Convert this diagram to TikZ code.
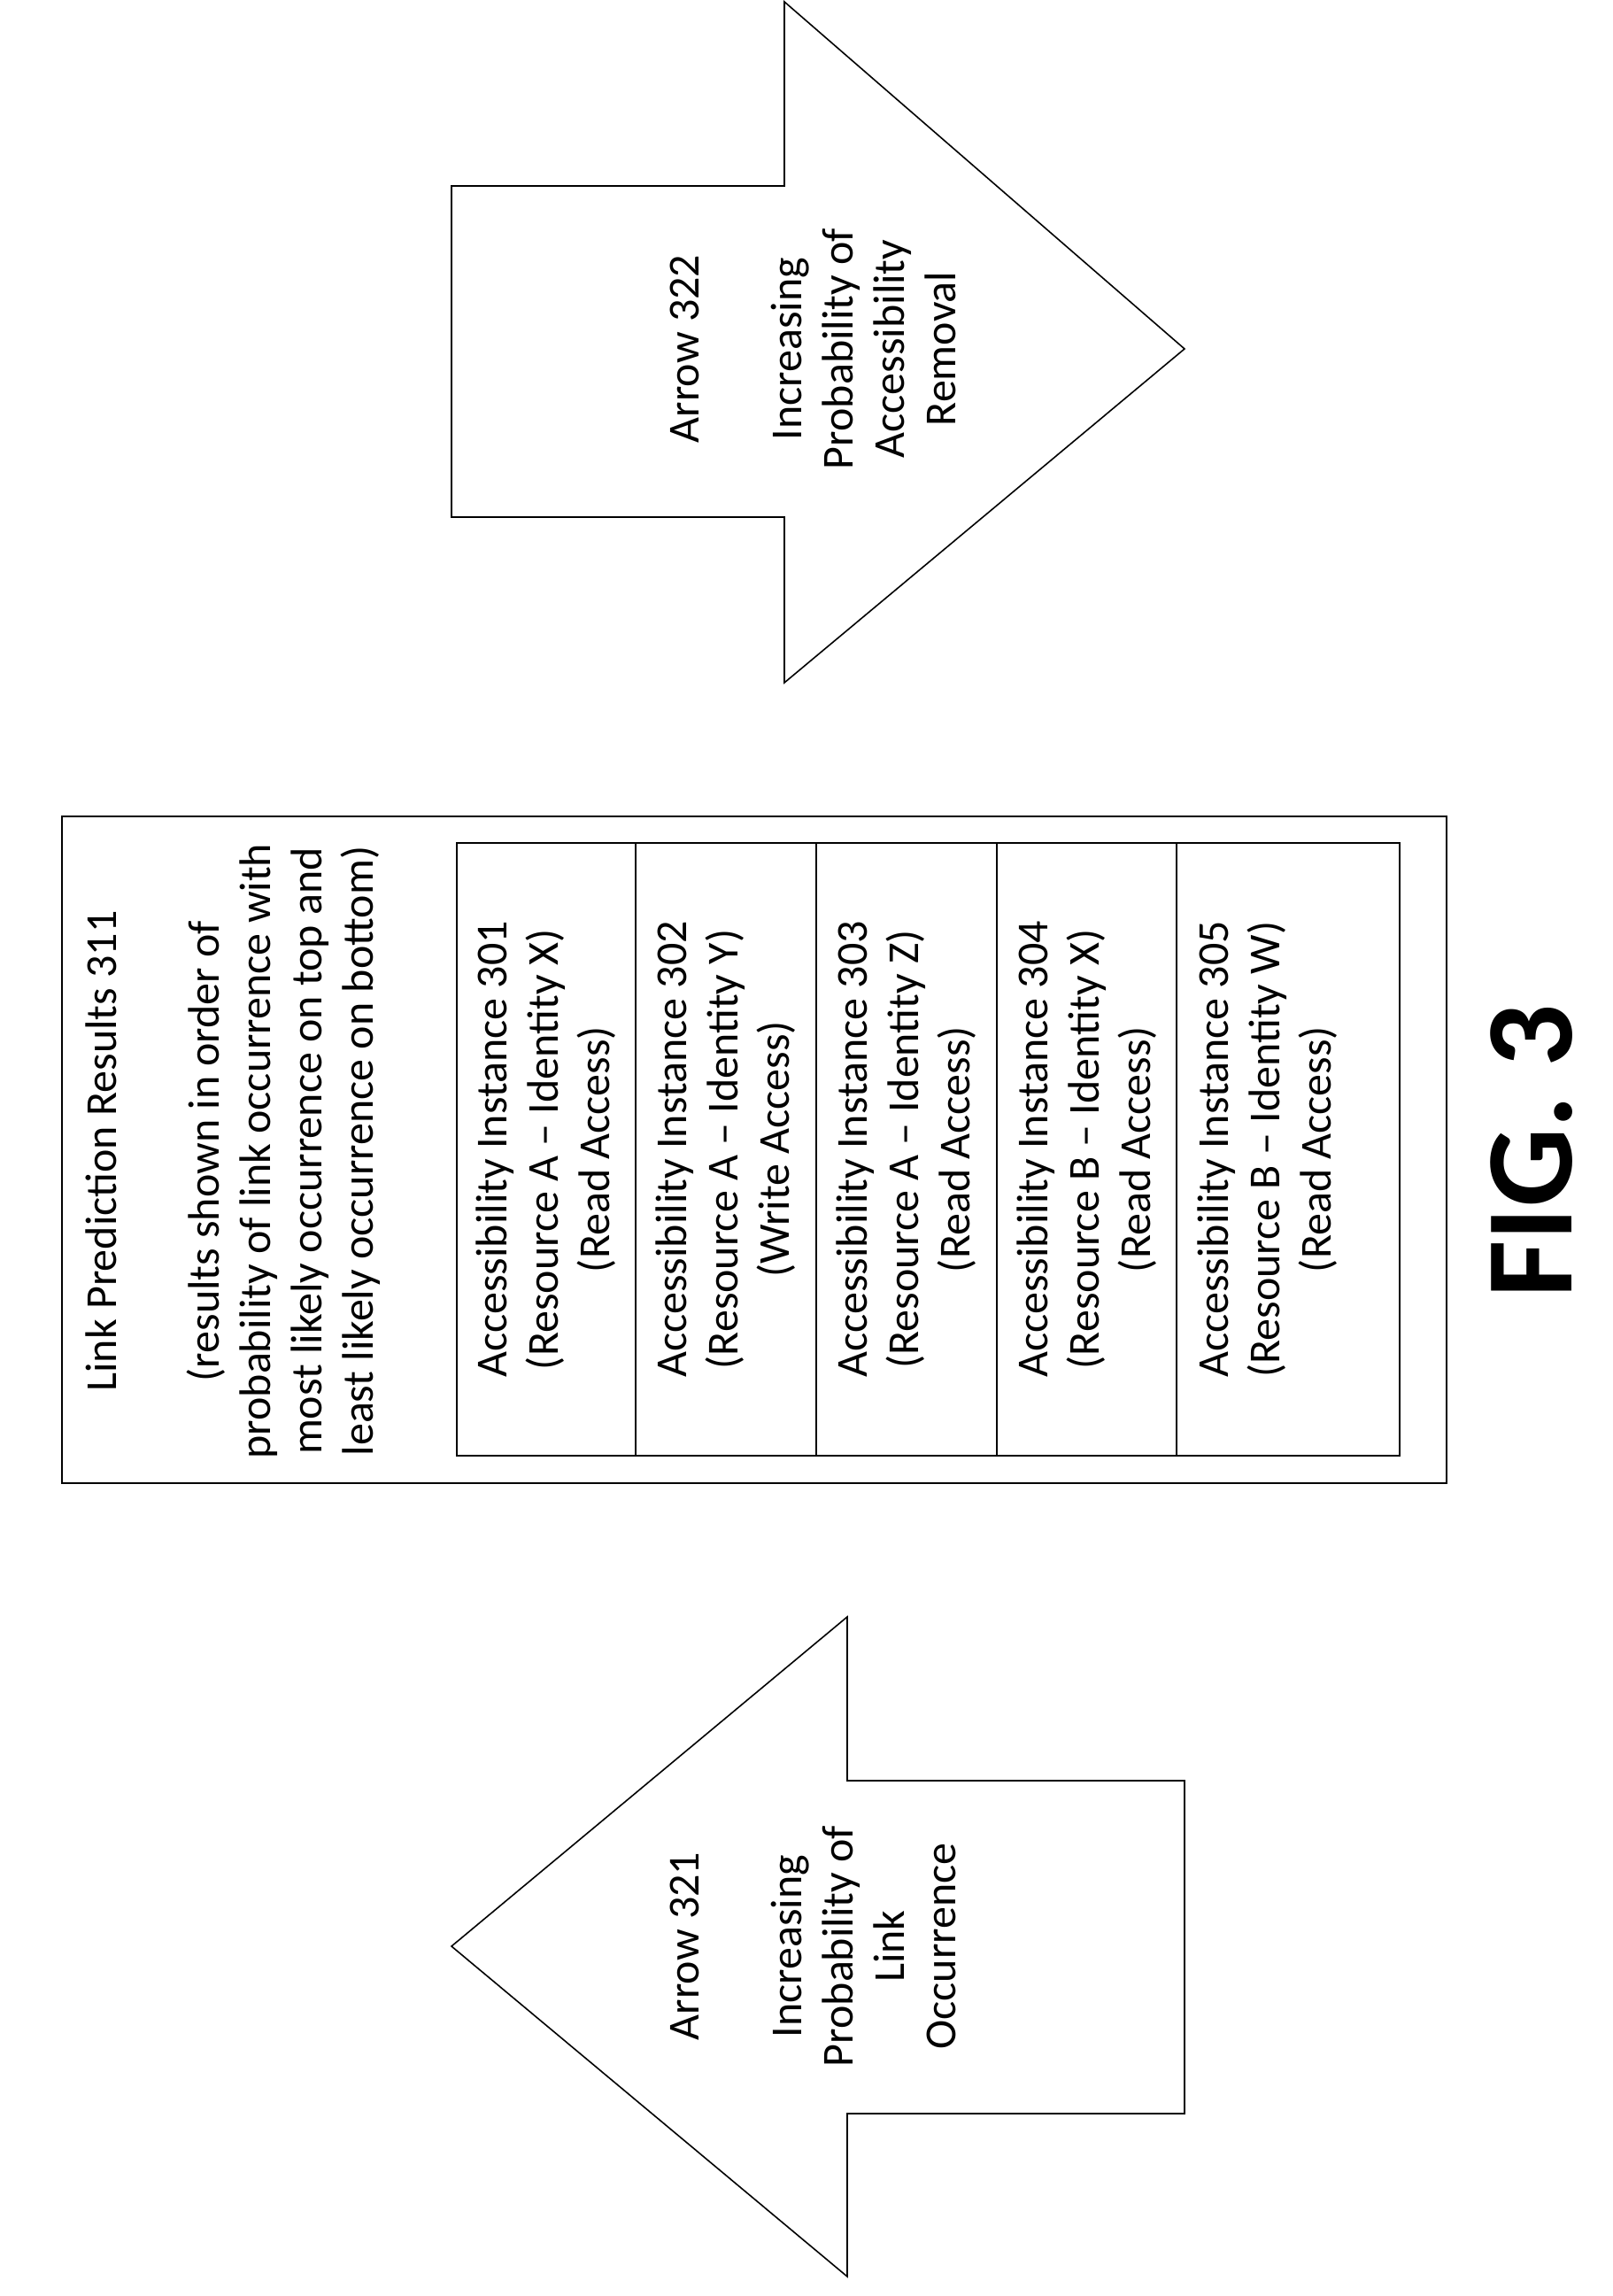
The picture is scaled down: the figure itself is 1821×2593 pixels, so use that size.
\documentclass[tikz,border=0pt]{standalone}
\usepackage{fontspec}
\setmainfont{Carlito}
\begin{document}
\begin{tikzpicture}[x=1pt,y=-1pt,line width=1.6pt,
  txt/.style={rotate=90,align=center,font=\fontsize{50}{58}\selectfont,inner sep=0pt}]
\useasboundingbox (0,0) rectangle (1821,2593);
% Arrow 322
\draw (510,210) -- (886,210) -- (886,2) -- (1338,394) -- (886,771) -- (886,584) -- (510,584) -- cycle;
\node[txt] (a322) at (918,394) {Arrow 322\\[58pt]Increasing\\Probability of\\Accessibility\\Removal};
% Arrow 321
\draw (510,2198) -- (957,1826) -- (957,2011) -- (1338,2011) -- (1338,2387) -- (957,2387) -- (957,2571) -- cycle;
\node[txt] (a321) at (918,2198) {Arrow 321\\[58pt]Increasing\\Probability of\\Link\\Occurrence};
% outer box
\draw (70,922) rectangle (1634,1675);
\node[txt] (lp) at (263,1300) {Link Prediction Results 311\\[58pt](results shown in order of\\probability of link occurrence with\\most likely occurrence on top and\\least likely occurrence on bottom)};
% table
\draw (516,952) rectangle (1581,1644);
\foreach \x in {718,922,1126,1329} \draw (\x,952) -- (\x,1644);
\node[txt] (c1) at (617,1298) {Accessibility Instance 301\\(Resource A -- Identity X)\\(Read Access)};
\node[txt] (c2) at (820,1298) {Accessibility Instance 302\\(Resource A -- Identity Y)\\(Write Access)};
\node[txt] (c3) at (1024,1298) {Accessibility Instance 303\\(Resource A -- Identity Z)\\(Read Access)};
\node[txt] (c4) at (1228,1298) {Accessibility Instance 304\\(Resource B -- Identity X)\\(Read Access)};
\node[txt] (c5) at (1432,1298) {Accessibility Instance 305\\(Resource B -- Identity W)\\(Read Access)};
\node[rotate=90,font=\fontsize{140}{140}\selectfont\bfseries,inner sep=0pt] (fig) at (1730,1300) {FIG. 3};
\end{tikzpicture}
\end{document}
